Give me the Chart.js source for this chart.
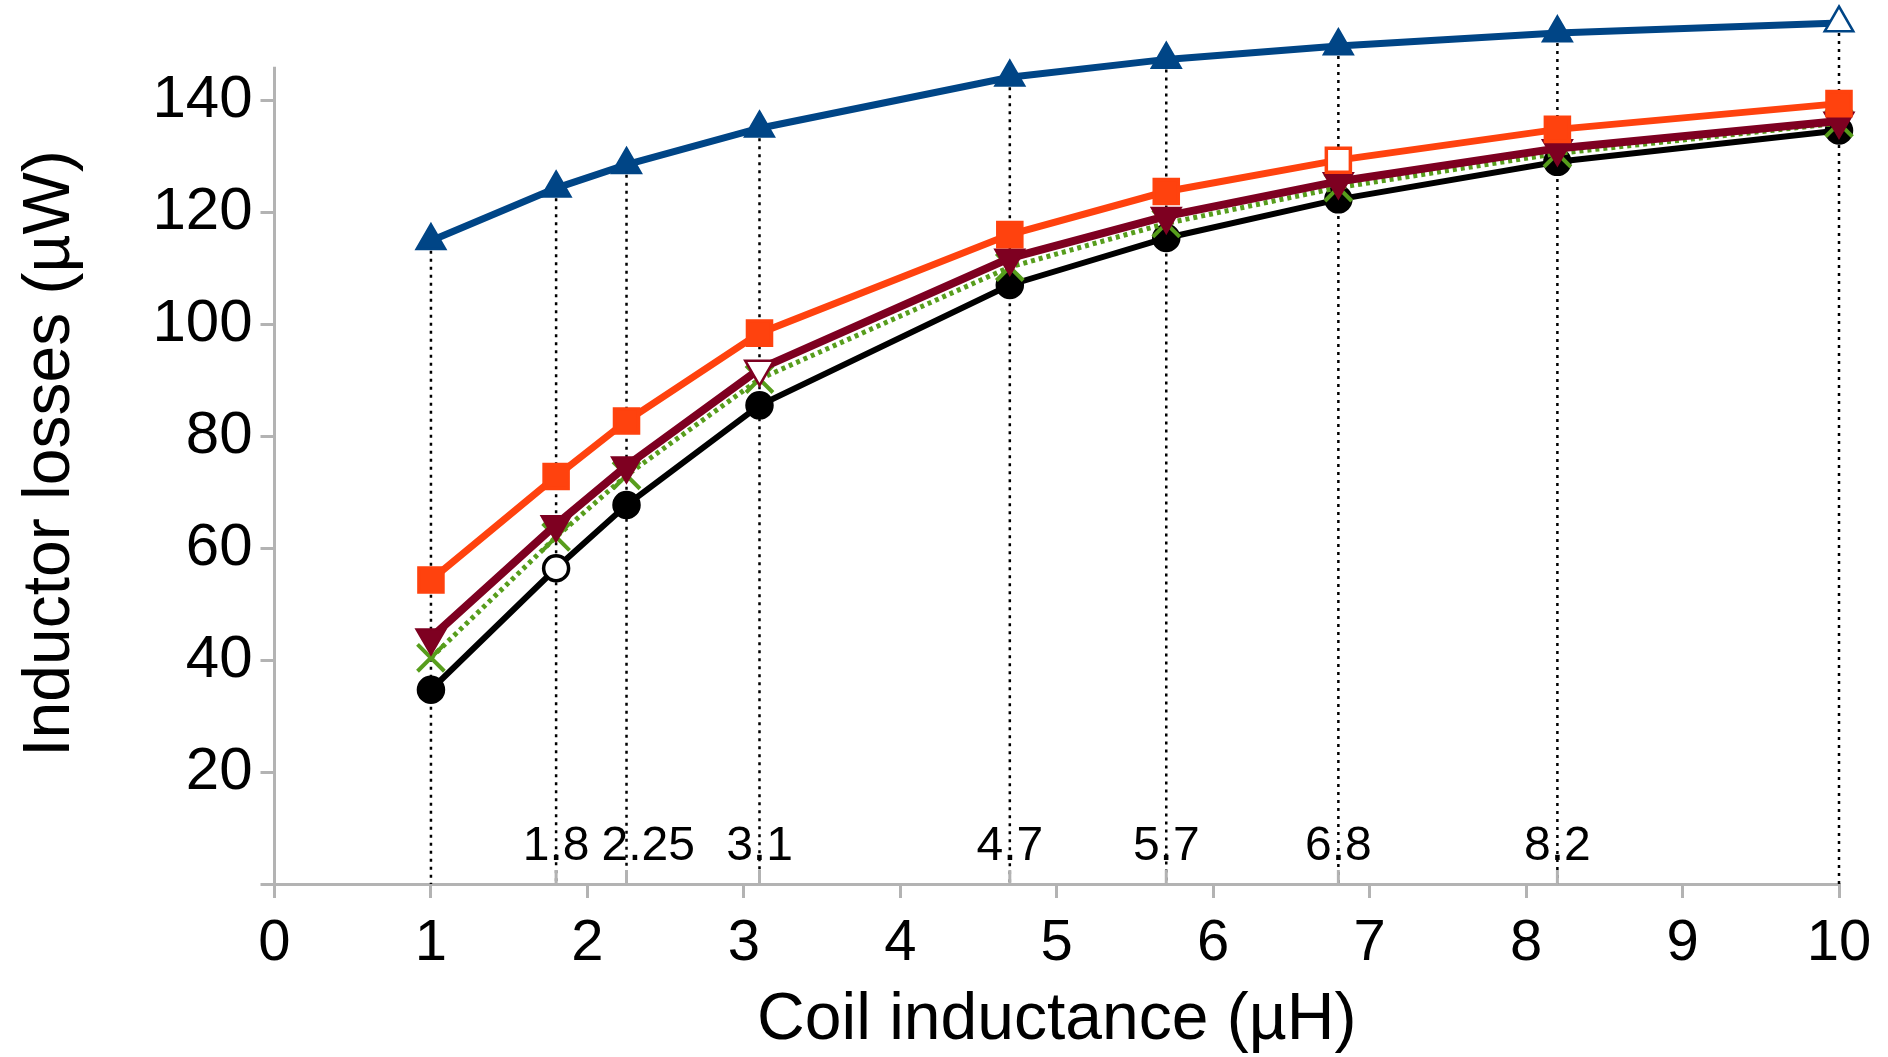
<!DOCTYPE html>
<html lang="en">
<head>
    <meta charset="UTF-8">
    <title>Inductor losses vs coil inductance</title>
    <script src="https://cdn.jsdelivr.net/npm/chart.js"></script>
    <style>
        body { margin: 0; padding: 0; background: #fff; }
        #wrap { width: 1888px; height: 1057px; }
    </style>
</head>
<body>
    <div id="wrap"><canvas id="lossChart"></canvas></div>

    <script>
        // Data (coil inductance in µH, losses in µW)
        const inductance = [1, 1.8, 2.25, 3.1, 4.7, 5.7, 6.8, 8.2, 10];
        const seriesBlue   = [114.9, 124.3, 128.5, 135.0, 144.1, 147.3, 149.7, 152.0, 153.8];
        const seriesOrange = [54.3, 72.8, 82.7, 98.4, 116.0, 123.7, 129.3, 134.8, 139.4];
        const seriesMaroon = [44.0, 64.2, 74.7, 92.0, 111.8, 119.3, 125.5, 131.4, 136.3];
        const seriesGreen  = [40.4, 62.0, 73.0, 90.2, 110.2, 118.0, 124.4, 130.5, 135.9];
        const seriesBlack  = [34.7, 56.4, 67.7, 85.5, 107.0, 115.4, 122.3, 129.0, 134.6];
        // which point of each series is drawn hollow
        const hollowBlue = 8, hollowOrange = 6, hollowMaroon = 3, hollowBlack = 1;
        const extraTicks = [1.8, 2.25, 3.1, 4.7, 5.7, 6.8, 8.2];
        const extraLabels = ['1.8', '2.25', '3.1', '4.7', '5.7', '6.8', '8.2'];
        const yAxisTop = 146;   // visible end of the value axis line

        const FONT = "'Liberation Sans', Arial, sans-serif";
        const AXIS_GRAY = '#b3b3b3';

        function toPoints(ys) {
            return inductance.map((x, i) => ({ x: x, y: ys[i] }));
        }
        function fills(color, hollowIdx) {
            return inductance.map((_, i) => i === hollowIdx ? '#ffffff' : color);
        }

        // y axis line, dotted drop lines from the top series, extra ticks/labels on the x axis
        const decorations = {
            id: 'decorations',
            beforeDatasetsDraw(chart) {
                const ctx = chart.ctx;
                const ys = chart.scales.y;
                const y0 = ys.getPixelForValue(0);
                const xl = chart.scales.x.getPixelForValue(0);
                ctx.save();
                ctx.strokeStyle = AXIS_GRAY;
                ctx.lineWidth = 3;
                ctx.beginPath();
                ctx.moveTo(xl, ys.getPixelForValue(yAxisTop));
                ctx.lineTo(xl, y0 + 14);
                ctx.stroke();

                const meta = chart.getDatasetMeta(0);
                ctx.strokeStyle = '#000';
                ctx.lineWidth = 2.5;
                ctx.setLineDash([3, 5]);
                meta.data.forEach(pt => {
                    ctx.beginPath();
                    ctx.moveTo(pt.x, pt.y + 10);
                    ctx.lineTo(pt.x, y0);
                    ctx.stroke();
                });
                ctx.restore();
            },
            afterDraw(chart) {
                const ctx = chart.ctx;
                const xs = chart.scales.x;
                const y0 = chart.scales.y.getPixelForValue(0);
                ctx.save();
                ctx.strokeStyle = AXIS_GRAY;
                ctx.lineWidth = 3;
                ctx.font = '48px ' + FONT;
                ctx.fillStyle = '#000';
                ctx.textAlign = 'center';
                ctx.textBaseline = 'alphabetic';
                let prevRight = -Infinity;
                extraTicks.forEach((v, i) => {
                    const px = xs.getPixelForValue(v);
                    ctx.beginPath();
                    ctx.moveTo(px, y0);
                    ctx.lineTo(px, y0 - 14);
                    ctx.stroke();
                    const w = ctx.measureText(extraLabels[i]).width;
                    let cx = px;
                    if (cx - w / 2 < prevRight + 12) cx = prevRight + 12 + w / 2;
                    ctx.fillText(extraLabels[i], cx, y0 - 24);
                    prevRight = cx + w / 2;
                });
                ctx.restore();
            }
        };

        const ctx = document.getElementById('lossChart').getContext('2d');
        new Chart(ctx, {
            type: 'line',
            data: {
                datasets: [
                    {
                        data: toPoints(seriesBlue),
                        borderColor: '#004586',
                        borderWidth: 7,
                        pointStyle: 'triangle',
                        pointRadius: 16.5,
                        pointBorderWidth: 2.5,
                        pointBorderColor: '#004586',
                        pointBackgroundColor: fills('#004586', hollowBlue),
                        clip: false
                    },
                    {
                        data: toPoints(seriesOrange),
                        borderColor: '#ff420e',
                        borderWidth: 7,
                        pointStyle: 'rect',
                        pointRadius: 17,
                        pointBorderWidth: 3.5,
                        pointBorderColor: '#ff420e',
                        pointBackgroundColor: fills('#ff420e', hollowOrange),
                        clip: false
                    },
                    {
                        data: toPoints(seriesMaroon),
                        borderColor: '#7e0021',
                        borderWidth: 8,
                        pointStyle: 'triangle',
                        pointRotation: 180,
                        pointRadius: 16.5,
                        pointBorderWidth: 2.5,
                        pointBorderColor: '#7e0021',
                        pointBackgroundColor: fills('#7e0021', hollowMaroon),
                        clip: false
                    },
                    {
                        data: toPoints(seriesGreen),
                        borderColor: '#579d1c',
                        borderWidth: 5,
                        borderDash: [4, 4],
                        pointStyle: 'crossRot',
                        pointRadius: 19,
                        pointBorderWidth: 4,
                        pointBorderColor: '#579d1c',
                        pointBackgroundColor: '#579d1c',
                        clip: false
                    },
                    {
                        data: toPoints(seriesBlack),
                        borderColor: '#000000',
                        borderWidth: 6,
                        pointStyle: 'circle',
                        pointRadius: 12.5,
                        pointBorderWidth: 3.5,
                        pointBorderColor: '#000000',
                        pointBackgroundColor: fills('#000000', hollowBlack),
                        clip: false
                    }
                ]
            },
            options: {
                responsive: true,
                maintainAspectRatio: false,
                animation: false,
                tension: 0,
                layout: { padding: { top: 9.3, right: 49, bottom: 0, left: 0 } },
                plugins: { legend: { display: false }, tooltip: { enabled: false } },
                scales: {
                    x: {
                        type: 'linear',
                        min: 0,
                        max: 10,
                        afterFit: s => { s.height = 173; },
                        grid: { drawOnChartArea: false, tickLength: 14, color: AXIS_GRAY, lineWidth: 3 },
                        border: { color: AXIS_GRAY, width: 3 },
                        ticks: { stepSize: 1, padding: 11, color: '#000', font: { family: FONT, size: 58 } },
                        title: {
                            display: true,
                            text: 'Coil inductance (µH)',
                            color: '#000',
                            font: { family: FONT, size: 66, lineHeight: 1 },
                            padding: { top: 0, bottom: 3 }
                        }
                    },
                    y: {
                        min: 0,
                        max: 153.8,
                        afterFit: s => {
                            s.width = 274.5;
                            s.paddingTop = 0;
                            s.paddingBottom = 0;
                        },
                        grid: { drawOnChartArea: false, tickLength: 14, color: AXIS_GRAY, lineWidth: 3 },
                        border: { display: false },
                        ticks: {
                            stepSize: 20,
                            includeBounds: false,
                            padding: 8,
                            color: '#000',
                            font: { family: FONT, size: 60 },
                            callback: v => v === 0 ? '' : v
                        },
                        title: {
                            display: true,
                            text: 'Inductor losses (µW)',
                            color: '#000',
                            font: { family: FONT, size: 66, lineHeight: 1 },
                            padding: { top: 18, bottom: 0 }
                        }
                    }
                }
            },
            plugins: [decorations]
        });
    </script>
</body>
</html>
